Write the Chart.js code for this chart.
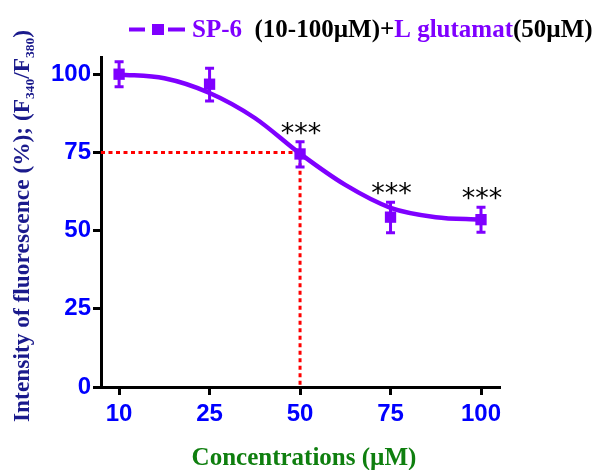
<!DOCTYPE html>
<html>
<head>
<meta charset="utf-8">
<script src="https://cdn.jsdelivr.net/npm/chart.js@4/dist/chart.umd.min.js"></script>
<style>
html,body{margin:0;padding:0;background:#fff;}
#wrap{position:relative;width:593px;height:470px;}
</style>
</head>
<body>
<div id="wrap"><canvas id="c" width="593" height="470"></canvas></div>
<script>
// ---- data ----
const categories = ['10', '25', '50', '75', '100'];
const meanValues = [100, 96.8, 74.5, 54.3, 53.5];
const errLow = [96, 91.4, 70.3, 49.3, 49.5];
const errHigh = [104, 101.9, 78.4, 59.1, 57.5];
const significance = ['', '', '***', '***', '***'];
const fitX = [0, 0.5, 1, 1.5, 2, 2.5, 3, 3.5, 4];
const fitY = [99.9, 98.7, 94.0, 86.0, 74.6, 64.6, 57.3, 54.3, 53.5];
const yTicks = [0, 25, 50, 75, 100];
const ic50Y = 75;
const ic50Index = 2;

const PURPLE = '#7f00ff';
const BLUE = '#0000ff';
const NAVY = '#1a1a8c';
const GREEN = '#0f7f0f';
const RED = '#ff0000';

const X_MIN = -0.2, X_MAX = 4.21;

const pointsData = meanValues.map((v, i) => ({x: i, y: v}));
const fitData = fitX.map((x, i) => ({x: x, y: fitY[i]}));
const refData = [{x: X_MIN, y: ic50Y}, {x: ic50Index, y: ic50Y}, {x: ic50Index, y: 0}];

const errorBars = {
  id: 'errorBars',
  afterDatasetsDraw(chart) {
    const ctx = chart.ctx, xs = chart.scales.x, ys = chart.scales.y;
    ctx.save();
    ctx.strokeStyle = PURPLE;
    ctx.lineWidth = 3;
    const cap = 4.5;
    meanValues.forEach((v, i) => {
      const px = xs.getPixelForValue(i);
      const top = ys.getPixelForValue(errHigh[i]);
      const bot = ys.getPixelForValue(errLow[i]);
      ctx.beginPath();
      ctx.moveTo(px, top); ctx.lineTo(px, bot);
      ctx.moveTo(px - cap, top); ctx.lineTo(px + cap, top);
      ctx.moveTo(px - cap, bot); ctx.lineTo(px + cap, bot);
      ctx.stroke();
    });
    // significance stars
    ctx.fillStyle = '#000';
    ctx.font = '27px "DejaVu Sans"';
    ctx.textAlign = 'center';
    ctx.textBaseline = 'alphabetic';
    significance.forEach((s, i) => {
      if (!s) return;
      const px = xs.getPixelForValue(i);
      const top = ys.getPixelForValue(errHigh[i]);
      ctx.fillText(s, px + 1, top);
    });
    ctx.restore();
  }
};

const decorations = {
  id: 'decorations',
  afterDraw(chart) {
    const ctx = chart.ctx;
    ctx.save();
    // legend
    ctx.strokeStyle = PURPLE;
    ctx.lineWidth = 4;
    ctx.beginPath();
    ctx.moveTo(129, 29.5); ctx.lineTo(145, 29.5);
    ctx.moveTo(168, 29.5); ctx.lineTo(185, 29.5);
    ctx.stroke();
    ctx.fillStyle = PURPLE;
    ctx.fillRect(152, 24, 12, 11);
    ctx.font = 'bold 25px "Liberation Serif"';
    ctx.textBaseline = 'alphabetic';
    ctx.textAlign = 'left';
    const parts = [['SP-6  ', PURPLE], ['(10-100\u00b5M)+', '#000'], ['L glutamat', PURPLE], ['(50\u00b5M)', '#000']];
    let x = 192;
    parts.forEach(([t, c]) => {
      ctx.fillStyle = c;
      ctx.fillText(t, x, 37);
      x += ctx.measureText(t).width;
    });
    // x title
    ctx.fillStyle = GREEN;
    ctx.textAlign = 'center';
    ctx.font = 'bold 25px "Liberation Serif"';
    ctx.fillText('Concentrations (\u00b5M)', 304, 465);
    // y title (rotated, with subscripts)
    ctx.translate(29, 422);
    ctx.rotate(-Math.PI / 2);
    ctx.textAlign = 'left';
    ctx.fillStyle = NAVY;
    const big = 'bold 23.4px "Liberation Serif"', small = 'bold 13.5px "Liberation Serif"';
    const seg = [['Intensity of fluorescence (%); (F', big, 0], ['340', small, 5], ['/F', big, 0], ['380', small, 5], [')', big, 0]];
    let p = 0;
    seg.forEach(([t, f, dy]) => {
      ctx.font = f;
      ctx.fillText(t, p, dy);
      p += ctx.measureText(t).width;
    });
    ctx.restore();
  }
};

new Chart(document.getElementById('c'), {
  type: 'scatter',
  data: {
    datasets: [
      {
        label: 'ref',
        type: 'line',
        data: refData,
        borderColor: RED,
        borderWidth: 3,
        borderDash: [4, 3.5],
        pointRadius: 0,
        fill: false,
        tension: 0,
        order: 3
      },
      {
        label: 'fit',
        type: 'line',
        data: fitData,
        borderColor: PURPLE,
        borderWidth: 4.5,
        pointRadius: 0,
        fill: false,
        cubicInterpolationMode: 'monotone',
        order: 2
      },
      {
        label: 'SP-6',
        data: pointsData,
        showLine: false,
        pointStyle: 'rect',
        pointRadius: 8,
        backgroundColor: PURPLE,
        borderColor: PURPLE,
        borderWidth: 0,
        order: 1
      }
    ]
  },
  options: {
    responsive: false,
    animation: false,
    events: [],
    layout: {padding: {left: 0, top: 57, right: 93, bottom: 0}},
    plugins: {legend: {display: false}, tooltip: {enabled: false}},
    scales: {
      x: {
        type: 'linear',
        min: X_MIN,
        max: X_MAX,
        afterBuildTicks(s) { s.ticks = categories.map((c, i) => ({value: i})); },
        afterFit(s) { s.height = 83; },
        ticks: {
          callback: (v) => categories[Math.round(v)],
          color: BLUE,
          font: {family: '"Liberation Sans", Arial', size: 24, weight: 'bold'},
          padding: 5,
          maxRotation: 0,
          autoSkip: false
        },
        grid: {drawOnChartArea: false, drawTicks: true, tickLength: 8, tickWidth: 3, tickColor: '#000'},
        border: {display: true, color: '#000', width: 3}
      },
      y: {
        type: 'linear',
        min: 0,
        max: 105.5,
        afterBuildTicks(s) { s.ticks = yTicks.map(v => ({value: v})); },
        afterFit(s) { s.width = 101; },
        ticks: {
          color: BLUE,
          font: {family: '"Liberation Sans", Arial', size: 24, weight: 'bold'},
          padding: 2
        },
        grid: {drawOnChartArea: false, drawTicks: true, tickLength: 8, tickWidth: 3, tickColor: '#000'},
        border: {display: true, color: '#000', width: 3}
      }
    }
  },
  plugins: [errorBars, decorations]
});
</script>
</body>
</html>
